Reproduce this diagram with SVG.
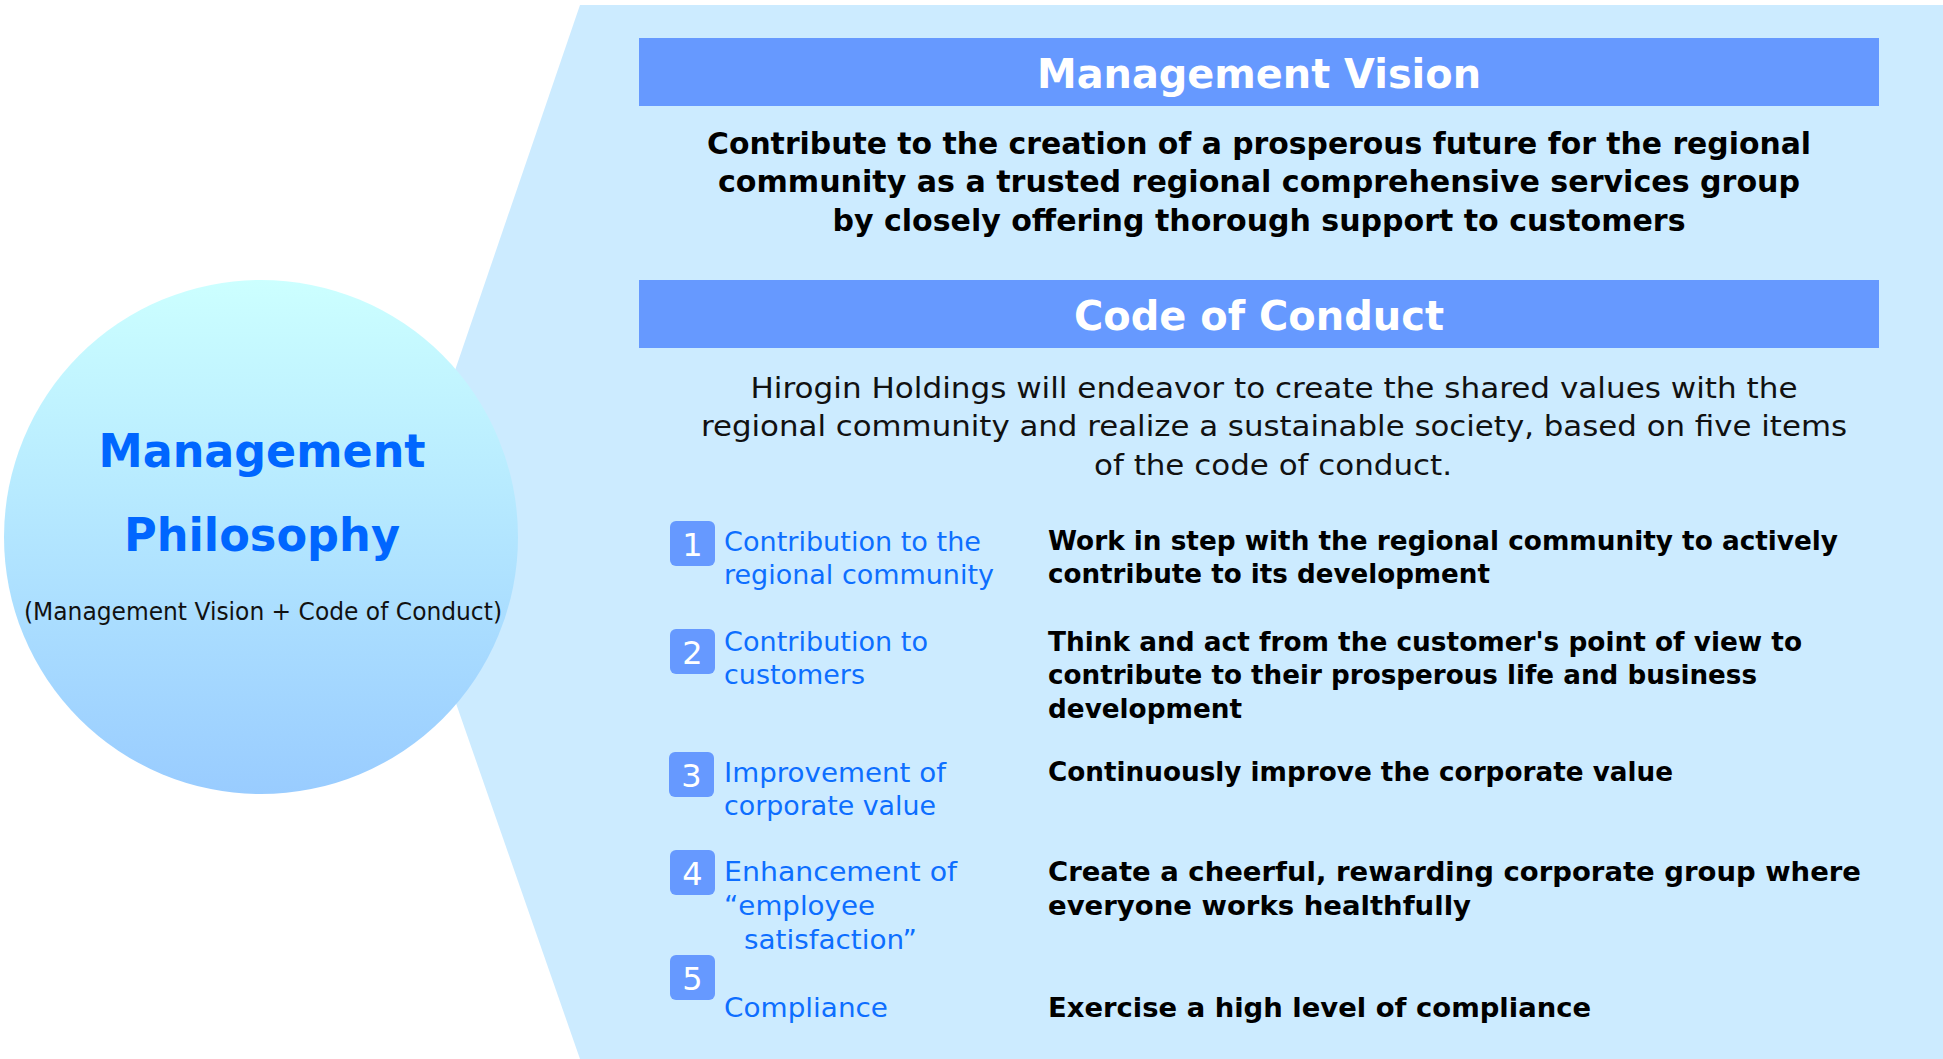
<svg xmlns="http://www.w3.org/2000/svg" width="1943" height="1059" viewBox="0 0 1943 1059">
<defs>
<linearGradient id="circ" x1="0" y1="0" x2="0" y2="1">
<stop offset="0" stop-color="#CCFFFF"/>
<stop offset="1" stop-color="#99CCFF"/>
</linearGradient>
<style>
text{font-family:"DejaVu Sans","Liberation Sans",sans-serif}
.bar{fill:#6699FF}
.bt{fill:#FFFFFF;font-weight:bold;font-size:41px;text-anchor:middle}
.vis{fill:#000;font-weight:bold;font-size:30px;text-anchor:middle}
.body{fill:#111;font-size:29px;text-anchor:middle}
.badge{fill:#6699FF}
.num{fill:#FFFFFF;font-size:32px;text-anchor:middle}
.lbl{fill:#0D6EFF;font-size:27px}
.desc{fill:#000;font-weight:bold;font-size:27px}
</style>
</defs>
<rect width="1943" height="1059" fill="#FFFFFF"/>
<polygon id="panel" points="580,5 1943,5 1943,1059 580,1059 398,537" fill="#CCEBFF"/>

<g id="philosophy">
<circle cx="261" cy="537" r="257" fill="url(#circ)"/>
<text x="262" y="467" font-size="46" font-weight="bold" fill="#0066FF" text-anchor="middle" textLength="327" lengthAdjust="spacingAndGlyphs">Management</text>
<text x="262" y="551" font-size="46" font-weight="bold" fill="#0066FF" text-anchor="middle" textLength="276" lengthAdjust="spacingAndGlyphs">Philosophy</text>
<text x="263" y="620" font-size="24" fill="#111" text-anchor="middle" textLength="478" lengthAdjust="spacingAndGlyphs">(Management Vision + Code of Conduct)</text>
</g>

<g id="vision">
<rect class="bar" x="639" y="38" width="1240" height="68"/>
<text class="bt" x="1259" y="88" textLength="444" lengthAdjust="spacingAndGlyphs">Management Vision</text>
<text class="vis" x="1259" y="154" textLength="1104" lengthAdjust="spacingAndGlyphs">Contribute to the creation of a prosperous future for the regional</text>
<text class="vis" x="1259" y="192" textLength="1082" lengthAdjust="spacingAndGlyphs">community as a trusted regional comprehensive services group</text>
<text class="vis" x="1259" y="231" textLength="853" lengthAdjust="spacingAndGlyphs">by closely offering thorough support to customers</text>
</g>

<g id="conduct">
<rect class="bar" x="639" y="280" width="1240" height="68"/>
<text class="bt" x="1259" y="330" textLength="370" lengthAdjust="spacingAndGlyphs">Code of Conduct</text>
<text class="body" x="1274" y="398" textLength="1047" lengthAdjust="spacingAndGlyphs">Hirogin Holdings will endeavor to create the shared values with the</text>
<text class="body" x="1274" y="436" textLength="1146" lengthAdjust="spacingAndGlyphs">regional community and realize a sustainable society, based on five items</text>
<text class="body" x="1273" y="475" textLength="358" lengthAdjust="spacingAndGlyphs">of the code of conduct.</text>
</g>

<g id="item1">
<rect class="badge" x="670" y="521" width="45" height="45" rx="6"/>
<text class="num" x="692.5" y="556">1</text>
<text class="lbl" x="724" y="551" textLength="257" lengthAdjust="spacingAndGlyphs">Contribution to the</text>
<text class="lbl" x="724" y="584" textLength="270" lengthAdjust="spacingAndGlyphs">regional community</text>
<text class="desc" x="1048" y="550" textLength="790" lengthAdjust="spacingAndGlyphs">Work in step with the regional community to actively</text>
<text class="desc" x="1048" y="583" textLength="442" lengthAdjust="spacingAndGlyphs">contribute to its development</text>
</g>

<g id="item2">
<rect class="badge" x="670" y="629" width="45" height="45" rx="6"/>
<text class="num" x="692.5" y="664">2</text>
<text class="lbl" x="724" y="651" textLength="204" lengthAdjust="spacingAndGlyphs">Contribution to</text>
<text class="lbl" x="724" y="684" textLength="141" lengthAdjust="spacingAndGlyphs">customers</text>
<text class="desc" x="1048" y="651" textLength="754" lengthAdjust="spacingAndGlyphs">Think and act from the customer's point of view to</text>
<text class="desc" x="1048" y="684" textLength="709" lengthAdjust="spacingAndGlyphs">contribute to their prosperous life and business</text>
<text class="desc" x="1048" y="718" textLength="194" lengthAdjust="spacingAndGlyphs">development</text>
</g>

<g id="item3">
<rect class="badge" x="669" y="752" width="45" height="45" rx="6"/>
<text class="num" x="691.5" y="787">3</text>
<text class="lbl" x="724" y="782" textLength="222" lengthAdjust="spacingAndGlyphs">Improvement of</text>
<text class="lbl" x="724" y="815" textLength="212" lengthAdjust="spacingAndGlyphs">corporate value</text>
<text class="desc" x="1048" y="781" textLength="625" lengthAdjust="spacingAndGlyphs">Continuously improve the corporate value</text>
</g>

<g id="item4">
<rect class="badge" x="670" y="850" width="45" height="45" rx="6"/>
<text class="num" x="692.5" y="885">4</text>
<text class="lbl" x="724" y="881" textLength="233" lengthAdjust="spacingAndGlyphs">Enhancement of</text>
<text class="lbl" x="724" y="915" textLength="151" lengthAdjust="spacingAndGlyphs">“employee</text>
<text class="lbl" x="744" y="949" textLength="173" lengthAdjust="spacingAndGlyphs">satisfaction”</text>
<text class="desc" x="1048" y="881" textLength="813" lengthAdjust="spacingAndGlyphs">Create a cheerful, rewarding corporate group where</text>
<text class="desc" x="1048" y="915" textLength="423" lengthAdjust="spacingAndGlyphs">everyone works healthfully</text>
</g>

<g id="item5">
<rect class="badge" x="670" y="955" width="45" height="45" rx="6"/>
<text class="num" x="692.5" y="990">5</text>
<text class="lbl" x="724" y="1017" textLength="164" lengthAdjust="spacingAndGlyphs">Compliance</text>
<text class="desc" x="1048" y="1017" textLength="543" lengthAdjust="spacingAndGlyphs">Exercise a high level of compliance</text>
</g>

<g id="connectors"></g>
</svg>
